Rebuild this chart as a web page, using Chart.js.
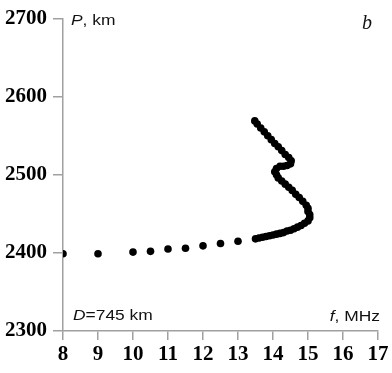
<!DOCTYPE html>
<html>
<head>
<meta charset="utf-8">
<script src="https://cdn.jsdelivr.net/npm/chart.js@4"></script>
<style>
  html, body { margin: 0; padding: 0; background: #fff; }
  #wrap { width: 392px; height: 373px; }
</style>
</head>
<body>
<div id="wrap"><canvas id="plot"></canvas></div>
<script>
// f, MHz
var freq = [8, 9, 10, 10.5, 11, 11.5, 12, 12.5, 13,
   13.5, 13.6, 13.7, 13.8, 13.9, 14.0, 14.1, 14.2, 14.3, 14.4, 14.5, 14.6, 14.7, 14.8, 14.9,
   15.0, 15.05, 15.05, 15.0, 15.0, 14.95, 14.85, 14.75, 14.65, 14.55, 14.45, 14.35, 14.25,
   14.15, 14.1, 14.05, 14.1, 14.2, 14.3, 14.4, 14.5, 14.52, 14.45, 14.35, 14.25, 14.15,
   14.05, 13.95, 13.85, 13.75, 13.65, 13.55, 13.48];
// P, km
var height = [2399, 2399, 2401, 2402, 2405, 2406, 2409, 2412, 2415,
   2418, 2419, 2420, 2421, 2422, 2423, 2424, 2425, 2426, 2428, 2429, 2431, 2433, 2435, 2438,
   2441, 2445, 2449, 2453, 2457, 2461, 2466, 2471, 2475, 2480, 2484, 2488, 2492,
   2496, 2500, 2504, 2508, 2511, 2511, 2512, 2514, 2518, 2522, 2526, 2531, 2536,
   2540, 2545, 2550, 2555, 2560, 2565, 2569];

var xTicks = [8, 9, 10, 11, 12, 13, 14, 15, 16, 17];
var yTicks = [2300, 2400, 2500, 2600, 2700];

var points = freq.map(function (f, i) { return { x: f, y: height[i] }; });

var axisColor = "#a0a0a0";
var tickFont = { family: "'Liberation Serif', 'Times New Roman', serif", size: 21, weight: "bold" };

// mixed italic / upright labels, slightly stretched like the original
function label(ctx, parts, x, y, align) {
   ctx.save();
   ctx.fillStyle = "#111";
   ctx.textBaseline = "alphabetic";
   var sx = 1.2;
   var w = 0;
   parts.forEach(function (p) {
      ctx.font = (p[1] ? "italic " : "") + "14.5px 'Liberation Sans', Arial, sans-serif";
      w += ctx.measureText(p[0]).width * sx;
   });
   var cx = align === "right" ? x - w : x;
   parts.forEach(function (p) {
      ctx.font = (p[1] ? "italic " : "") + "14.5px 'Liberation Sans', Arial, sans-serif";
      ctx.save();
      ctx.translate(cx, y);
      ctx.scale(sx, 1);
      ctx.fillText(p[0], 0, 0);
      ctx.restore();
      cx += ctx.measureText(p[0]).width * sx;
   });
   ctx.restore();
}

var textPlugin = {
   id: "texts",
   afterDraw: function (chart) {
      var ctx = chart.ctx;
      var a = chart.chartArea;
      label(ctx, [["P", true], [", km", false]], a.left + 8, a.top + 6);
      label(ctx, [["D", true], ["=745 km", false]], a.left + 10, a.bottom - 11);
      label(ctx, [["f", true], [", MHz", false]], a.right + 2, a.bottom - 10, "right");
      ctx.save();
      ctx.fillStyle = "#111";
      ctx.font = "italic 20px 'Liberation Serif', 'Times New Roman', serif";
      ctx.textAlign = "left";
      ctx.fillText("b", 362, 29);
      ctx.restore();
   }
};

new Chart("plot", {
   type: "scatter",
   data: {
      datasets: [{
         data: points,
         backgroundColor: "#000",
         borderWidth: 0,
         pointRadius: 3.8,
         pointHoverRadius: 3.8
      }]
   },
   options: {
      responsive: true,
      maintainAspectRatio: false,
      animation: false,
      layout: { padding: { left: 0, right: 14, top: 13, bottom: 0 } },
      plugins: {
         legend: { display: false },
         tooltip: { enabled: false }
      },
      scales: {
         x: {
            type: "linear",
            min: xTicks[0],
            max: xTicks[xTicks.length - 1],
            afterFit: function (s) { s.height = 42; },
            afterBuildTicks: function (s) { s.ticks = xTicks.map(function (v) { return { value: v }; }); },
            grid: { drawOnChartArea: false, tickLength: 9, color: axisColor, lineWidth: 1.5 },
            border: { color: axisColor, width: 1.5 },
            ticks: { color: "#000", font: tickFont, padding: 2, maxRotation: 0,
               callback: function (v) { return String(v); } }
         },
         y: {
            type: "linear",
            min: yTicks[0],
            max: yTicks[yTicks.length - 1],
            afterFit: function (s) { s.width = 63; },
            afterBuildTicks: function (s) { s.ticks = yTicks.map(function (v) { return { value: v }; }); },
            grid: { drawOnChartArea: false, tickLength: 10, color: axisColor, lineWidth: 1.5 },
            border: { color: axisColor, width: 1.5 },
            ticks: { color: "#000", font: tickFont, padding: 6,
               callback: function (v) { return String(v); } }
         }
      }
   },
   plugins: [textPlugin]
});
</script>
</body>
</html>
